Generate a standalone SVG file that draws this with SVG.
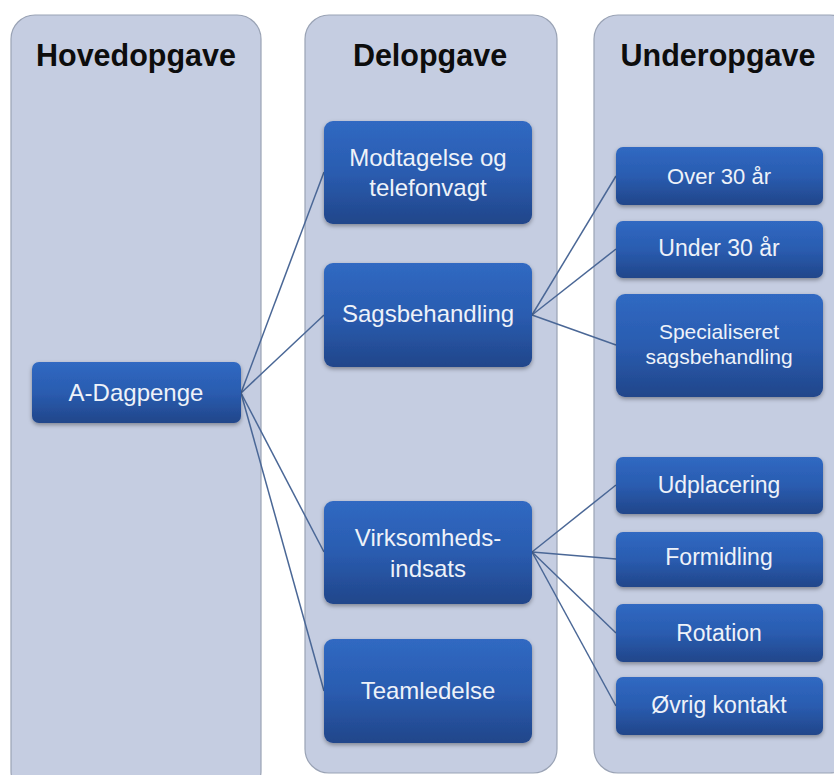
<svg xmlns="http://www.w3.org/2000/svg" width="834" height="775" viewBox="0 0 834 775">
<defs>
<linearGradient id="ng" x1="0" y1="0" x2="0" y2="1">
<stop offset="0" stop-color="#3069c2"/>
<stop offset="0.5" stop-color="#2a5cb0"/>
<stop offset="1" stop-color="#21468a"/>
</linearGradient>
<filter id="sh" x="-10%" y="-10%" width="120%" height="130%">
<feDropShadow dx="0" dy="2" stdDeviation="2" flood-color="#000" flood-opacity="0.35"/>
</filter>
<style>
.col{fill:#c5cde1;stroke:#9aa3b5;stroke-width:1.2}
.hd{font-family:"Liberation Sans",Arial,sans-serif;font-weight:bold;font-size:30.5px;fill:#0d0d0d;text-anchor:middle}
.nd{fill:url(#ng);filter:url(#sh)}
.tx{font-family:"Liberation Sans",Arial,sans-serif;font-size:24px;fill:#eef2f9;text-anchor:middle}
.s3{font-size:23px}
.s2{font-size:22px}
.sm{font-size:21px}
.cn line{stroke:#4a6796;stroke-width:1.5}
</style>
</defs>
<g id="columns">
<rect class="col" x="11" y="15" width="250" height="780" rx="24"/>
<rect class="col" x="305" y="15" width="252" height="758" rx="24"/>
<rect class="col" x="594" y="15" width="260" height="758" rx="24"/>
<text class="hd" x="136" y="66">Hovedopgave</text>
<text class="hd" x="430" y="66">Delopgave</text>
<text class="hd" x="718" y="66">Underopgave</text>
</g>
<g id="connectors" class="cn">
<line x1="241" y1="393" x2="324" y2="172"/>
<line x1="241" y1="393" x2="324" y2="315"/>
<line x1="241" y1="393" x2="324" y2="552"/>
<line x1="241" y1="393" x2="324" y2="691"/>
<line x1="532" y1="315" x2="616" y2="176"/>
<line x1="532" y1="315" x2="616" y2="249"/>
<line x1="532" y1="315" x2="616" y2="345"/>
<line x1="532" y1="552" x2="616" y2="485"/>
<line x1="532" y1="552" x2="616" y2="559"/>
<line x1="532" y1="552" x2="616" y2="633"/>
<line x1="532" y1="552" x2="616" y2="706"/>
</g>
<g id="n-adagpenge"><rect class="nd" x="32" y="362" width="209" height="61" rx="7"/><text class="tx" x="136" y="401">A-Dagpenge</text></g>
<g id="n-modtagelse"><rect class="nd" x="324" y="121" width="208" height="103" rx="9"/><text class="tx" x="428" y="166">Modtagelse og</text><text class="tx" x="428" y="196">telefonvagt</text></g>
<g id="n-sagsbehandling"><rect class="nd" x="324" y="263" width="208" height="104" rx="9"/><text class="tx" x="428" y="322">Sagsbehandling</text></g>
<g id="n-virksomheds"><rect class="nd" x="324" y="501" width="208" height="103" rx="9"/><text class="tx" x="428" y="546">Virksomheds-</text><text class="tx" x="428" y="577">indsats</text></g>
<g id="n-teamledelse"><rect class="nd" x="324" y="639" width="208" height="104" rx="9"/><text class="tx" x="428" y="699">Teamledelse</text></g>
<g id="n-over30"><rect class="nd" x="616" y="147" width="207" height="58" rx="7"/><text class="tx s2" x="719" y="184">Over 30 år</text></g>
<g id="n-under30"><rect class="nd" x="616" y="221" width="207" height="57" rx="7"/><text class="tx s3" x="719" y="256">Under 30 år</text></g>
<g id="n-specialiseret"><rect class="nd" x="616" y="294" width="207" height="103" rx="9"/><text class="tx sm" x="719" y="339">Specialiseret</text><text class="tx sm" x="719" y="364">sagsbehandling</text></g>
<g id="n-udplacering"><rect class="nd" x="616" y="457" width="207" height="57" rx="7"/><text class="tx s3" x="719" y="493">Udplacering</text></g>
<g id="n-formidling"><rect class="nd" x="616" y="532" width="207" height="55" rx="7"/><text class="tx s3" x="719" y="565">Formidling</text></g>
<g id="n-rotation"><rect class="nd" x="616" y="604" width="207" height="58" rx="7"/><text class="tx s3" x="719" y="641">Rotation</text></g>
<g id="n-ovrig"><rect class="nd" x="616" y="677" width="207" height="58" rx="7"/><text class="tx s3" x="719" y="713">Øvrig kontakt</text></g>
</svg>
